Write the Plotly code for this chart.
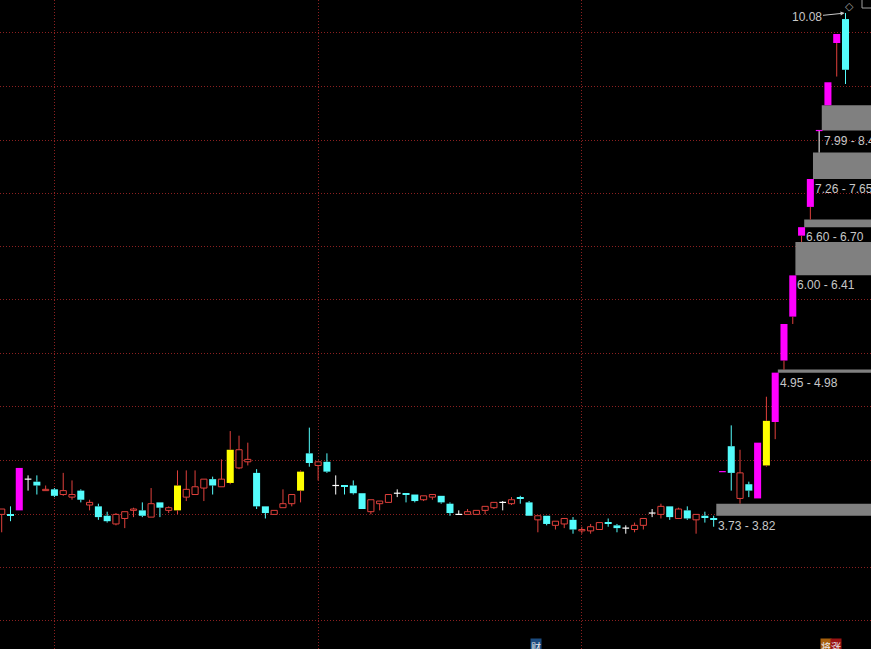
import math
import plotly.graph_objects as go

# ---------------- data ----------------
opens = [3.74, 3.74, 3.77, 4.01, 3.99, 3.92, 3.93, 3.89, 3.87, 3.92,
         3.81, 3.80, 3.73, 3.67, 3.71, 3.77, 3.77, 3.72, 3.83, 3.77,
         3.77, 3.87, 3.89, 3.94, 4.01, 3.95, 3.98, 4.10, 4.15, 4.06,
         3.80, 3.74, 3.79, 3.82, 3.92, 4.22, 4.12, 4.15, 3.96, 3.96,
         3.96, 3.90, 3.76, 3.82, 3.83, 3.90, 3.90, 3.89, 3.85, 3.87,
         3.88, 3.82, 3.74, 3.74, 3.74, 3.77, 3.79, 3.83, 3.82, 3.87,
         3.83, 3.70, 3.73, 3.66, 3.67, 3.70, 3.62, 3.62, 3.63, 3.68,
         3.66, 3.64, 3.63, 3.66, 3.75, 3.74, 3.80, 3.71, 3.77, 3.70,
         3.73, 3.71, 4.07, 4.28, 3.86, 3.97, 3.86, 4.12, 4.49, 5.07,
         5.53, 6.49, 6.87, 7.99, 8.40, 9.50, 9.96]
highs = [3.78, 3.80, 4.10, 4.04, 4.04, 3.96, 3.94, 4.06, 4.00, 3.93,
         3.85, 3.82, 3.76, 3.75, 3.76, 3.79, 3.83, 3.94, 3.83, 3.80,
         4.08, 4.08, 4.08, 4.01, 4.03, 4.17, 4.41, 4.37, 4.31, 4.09,
         3.80, 3.77, 3.93, 3.89, 4.08, 4.44, 4.15, 4.22, 4.04, 3.96,
         4.00, 3.90, 3.85, 3.84, 3.89, 3.93, 3.90, 3.89, 3.88, 3.89,
         3.88, 3.83, 3.77, 3.78, 3.77, 3.80, 3.83, 3.84, 3.87, 3.88,
         3.84, 3.73, 3.73, 3.69, 3.71, 3.72, 3.65, 3.67, 3.68, 3.71,
         3.67, 3.66, 3.68, 3.71, 3.78, 3.82, 3.80, 3.79, 3.80, 3.74,
         3.76, 3.73, 4.07, 4.46, 4.25, 3.99, 4.31, 4.72, 4.95, 5.45,
         6.00, 6.60, 7.26, 7.99, 8.79, 9.67, 10.08]
lows = [3.61, 3.69, 3.77, 3.92, 3.89, 3.92, 3.87, 3.88, 3.85, 3.83,
        3.77, 3.70, 3.68, 3.66, 3.64, 3.72, 3.72, 3.72, 3.72, 3.75,
        3.74, 3.84, 3.89, 3.84, 3.89, 3.95, 3.97, 4.09, 4.12, 3.78,
        3.71, 3.74, 3.79, 3.80, 3.83, 4.11, 4.00, 4.06, 3.89, 3.89,
        3.89, 3.78, 3.74, 3.77, 3.83, 3.87, 3.83, 3.83, 3.84, 3.85,
        3.82, 3.73, 3.74, 3.74, 3.74, 3.74, 3.78, 3.77, 3.81, 3.82,
        3.73, 3.61, 3.66, 3.63, 3.64, 3.60, 3.60, 3.60, 3.63, 3.65,
        3.61, 3.60, 3.61, 3.63, 3.72, 3.71, 3.70, 3.71, 3.70, 3.60,
        3.68, 3.65, 4.07, 3.92, 3.82, 3.87, 3.86, 4.11, 4.34, 4.98,
        5.45, 6.41, 6.70, 7.65, 8.40, 8.89, 8.76]
closes = [3.78, 3.73, 4.10, 4.01, 3.96, 3.93, 3.88, 3.92, 3.89, 3.85,
          3.83, 3.72, 3.69, 3.74, 3.76, 3.78, 3.73, 3.82, 3.79, 3.79,
          3.96, 3.93, 3.95, 4.01, 3.96, 4.01, 4.25, 4.25, 4.17, 3.80,
          3.75, 3.77, 3.82, 3.89, 4.07, 4.14, 4.15, 4.07, 3.96, 3.95,
          3.90, 3.78, 3.85, 3.84, 3.89, 3.90, 3.89, 3.84, 3.88, 3.89,
          3.83, 3.75, 3.74, 3.76, 3.77, 3.80, 3.83, 3.83, 3.85, 3.86,
          3.73, 3.73, 3.67, 3.69, 3.71, 3.63, 3.63, 3.65, 3.68, 3.67,
          3.64, 3.64, 3.66, 3.71, 3.75, 3.80, 3.72, 3.78, 3.71, 3.74,
          3.72, 3.70, 4.07, 4.06, 4.06, 3.92, 4.31, 4.50, 4.95, 5.45,
          6.00, 6.60, 7.26, 7.99, 8.79, 9.67, 9.01]

limit_up_days = [2, 82, 86, 88, 89, 90, 91, 92, 93, 94, 95]
signal_days = [20, 26, 34, 87]

grid_prices = [9.69, 8.71, 7.84, 7.06, 6.35, 5.72, 5.14, 4.63, 4.16, 3.74, 3.37, 3.03]
month_starts = [6, 36, 66]

gap_days = [81, 88, 90, 91, 92, 93]
gap_lows = [3.73, 4.95, 6.00, 6.60, 7.26, 7.99]
gap_highs = [3.82, 4.98, 6.41, 6.70, 7.65, 8.40]

event_days = [60, 93]
event_labels = ["财", "将涨"]

# ---------------- styling ----------------
RED = "#e0403c"
CYAN = "#54fcfc"
MAGENTA = "#ff00ff"
YELLOW = "#ffff00"
WHITE = "#ffffff"
GRID = "#8c2020"
LABEL = "#c8c8c8"
X_MIN, X_MAX = -0.193, 98.9
Y_MIN, Y_MAX = 2.866, 10.343
W, H = 871, 649

bx, bbase, bh, bfill, bedge, blw, bw = [], [], [], [], [], [], []
wicks = {RED: ([], []), CYAN: ([], []), WHITE: ([], [])}
flats = {WHITE: ([], []), MAGENTA: ([], [])}


def seg(store, x0, y0, x1, y1):
    store[0].extend([x0, x1, None])
    store[1].extend([y0, y1, None])


for i, (o, h, l, c) in enumerate(zip(opens, highs, lows, closes)):
    top, bot = max(o, c), min(o, c)
    if o == c:
        face = MAGENTA if i in limit_up_days else WHITE
        seg(flats[face], i - 0.38, o, i + 0.38, o)
        if h > l:
            seg(wicks[WHITE], i, l, i, h)
        continue
    if i in limit_up_days:
        fill, edge, wick, width, lw = MAGENTA, MAGENTA, RED, 0.8, 0
    elif i in signal_days:
        fill, edge, wick, width, lw = YELLOW, YELLOW, RED, 0.8, 0
    elif c > o:
        fill, edge, wick, width, lw = "#000000", RED, RED, 0.7, 1
    else:
        fill, edge, wick, width, lw = CYAN, CYAN, CYAN, 0.8, 0
    bx.append(i)
    bbase.append(bot)
    bh.append(top - bot)
    bfill.append(fill)
    bedge.append(edge)
    blw.append(lw)
    bw.append(width)
    if h > top:
        seg(wicks[wick], i, top, i, h)
    if l < bot:
        seg(wicks[wick], i, l, i, bot)

fig = go.Figure()
fig.add_trace(go.Bar(x=bx, y=bh, base=bbase, width=bw,
                     marker=dict(color=bfill, line=dict(color=bedge, width=blw)),
                     hoverinfo="skip", showlegend=False))
for col, (xs, ys) in wicks.items():
    fig.add_trace(go.Scatter(x=xs, y=ys, mode="lines", line=dict(color=col, width=1),
                             hoverinfo="skip", showlegend=False))
for col, (xs, ys) in flats.items():
    fig.add_trace(go.Scatter(x=xs, y=ys, mode="lines", line=dict(color=col, width=1.2),
                             hoverinfo="skip", showlegend=False))

shapes = []
annotations = []
for g, lo, hi in zip(gap_days, gap_lows, gap_highs):
    shapes.append(dict(type="rect", xref="x", yref="y", x0=g + 0.3, x1=X_MAX,
                       y0=lo, y1=hi, fillcolor="#808080", line=dict(width=0),
                       layer="between"))
    annotations.append(dict(x=g + 0.3, y=math.log10(lo), xref="x", yref="y",
                            xanchor="left", yanchor="top", showarrow=False,
                            text=f"{lo:.2f} - {hi:.2f}", yshift=-1,
                            font=dict(family="Liberation Sans, Arial", size=12, color=LABEL)))

peak = max(highs)
peak_i = highs.index(peak)
annotations.append(dict(x=peak_i, y=math.log10(peak), xref="x", yref="y",
                        text=f"{peak:.2f}", showarrow=True, ax=-39, ay=4,
                        arrowcolor=LABEL, arrowwidth=1, arrowhead=2, arrowsize=0.8,
                        standoff=1,
                        font=dict(family="Liberation Sans, Arial", size=12, color=LABEL)))

event_colors = {"财": ["#1c4c80"], "将涨": ["#a8600c", "#9c1414"]}
for d, lab in zip(event_days, event_labels):
    for k, ch in enumerate(lab):
        annotations.append(dict(x=d, y=11 / H, xref="x", yref="paper",
                                xanchor="left", yanchor="top", xshift=k * 10 + 1,
                                text=ch, showarrow=False, borderpad=0,
                                bgcolor=event_colors[lab][k],
                                font=dict(family="Noto Sans CJK SC", size=10, color="#e8e8e8")))

# top-right toolbar glyphs
annotations.append(dict(x=849 / W, y=1 + 2 / H, xref="paper", yref="paper",
                        xanchor="center", yanchor="top", text="◇", showarrow=False,
                        font=dict(family="DejaVu Sans", size=11, color="#a0a0a0")))
shapes.append(dict(type="rect", xref="paper", yref="paper", x0=862 / W, x1=1.02,
                   y0=1 - 8 / H, y1=1.02, line=dict(color="#a0a0a0", width=1),
                   fillcolor="#000000", layer="above"))

axis_common = dict(showgrid=True, gridcolor=GRID, griddash="1px,2px", gridwidth=1,
                   zeroline=False, showline=False, showticklabels=False, ticks="",
                   fixedrange=True)

fig.update_layout(
    width=W, height=H,
    margin=dict(l=0, r=0, t=0, b=0),
    paper_bgcolor="#000000", plot_bgcolor="#000000",
    barmode="overlay",
    showlegend=False,
    xaxis=dict(range=[X_MIN, X_MAX], tickvals=month_starts, **axis_common),
    yaxis=dict(type="log", range=[math.log10(Y_MIN), math.log10(Y_MAX)],
               tickvals=grid_prices, **axis_common),
    shapes=shapes,
    annotations=annotations,
)

fig.write_html("out.html", config={"displayModeBar": False},
               post_script="document.body.style.margin='0';")
